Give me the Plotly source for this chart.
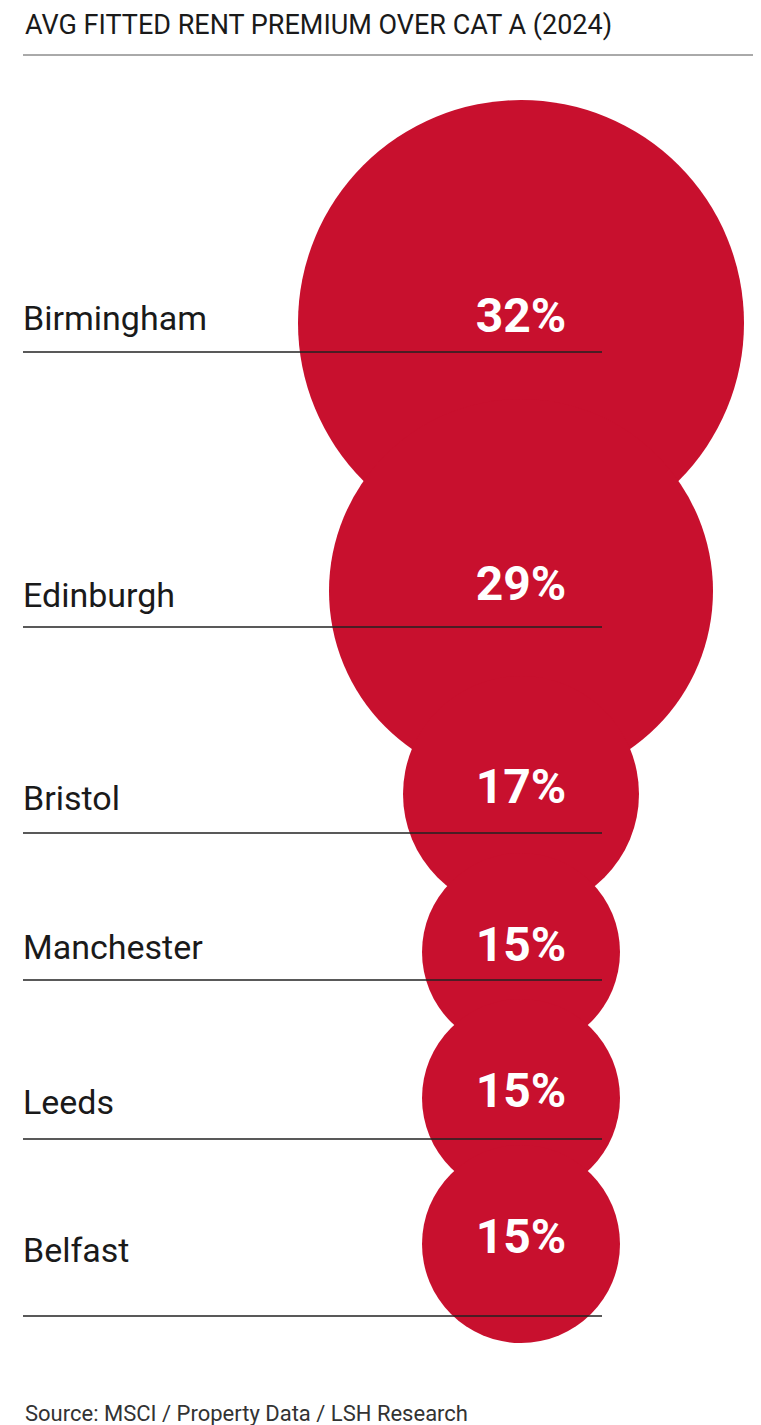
import plotly.graph_objects as go

cities = ["Birmingham", "Edinburgh", "Bristol", "Manchester", "Leeds", "Belfast"]
premium = [32, 29, 17, 15, 15, 15]
labels = ["32%", "29%", "17%", "15%", "15%", "15%"]

# layout positions (pixel coords)
centers_y = [315, 583, 786, 944, 1090, 1236]
line_y = [344, 619, 825, 972, 1131, 1308]
label_y = [313, 590, 793, 942, 1097, 1245]
radius_scale = [223/32, 192/29, 118/17, 99/15, 99/15, 99/15]
CX = 513
RED = "#C8102E"

fig = go.Figure()
shapes = []
for v, cy, k in zip(premium, centers_y, radius_scale):
    r = v * k
    shapes.append(dict(type="circle", xref="x", yref="y", x0=CX - r, x1=CX + r,
                       y0=cy - r, y1=cy + r, fillcolor=RED, line=dict(width=0), layer="below"))
for ly in line_y:
    shapes.append(dict(type="line", xref="x", yref="y", x0=15, x1=594, y0=ly, y1=ly,
                       line=dict(color="#222", width=1.5)))
shapes.append(dict(type="line", xref="x", yref="y", x0=15, x1=752, y0=47, y1=47,
                   line=dict(color="#555", width=1)))

fig.add_trace(go.Scatter(x=[15] * len(cities), y=label_y, text=cities, mode="text",
                         textposition="middle right",
                         textfont=dict(family="Roboto", size=34, color="#1a1a1a"),
                         hoverinfo="skip"))
fig.add_trace(go.Scatter(x=[CX] * len(cities), y=[c - 3 for c in centers_y], text=labels, mode="text",
                         textposition="middle center",
                         textfont=dict(family="Roboto", size=48, color="white", weight="bold"),
                         hoverinfo="skip"))

fig.add_annotation(x=15, y=17, xref="x", yref="y", text="AVG FITTED RENT PREMIUM OVER CAT A (2024)",
                   showarrow=False, xanchor="left", yanchor="middle",
                   font=dict(family="Roboto", size=27, color="#1a1a1a"))
fig.add_annotation(x=15, y=1405, xref="x", yref="y", text="Source: MSCI / Property Data / LSH Research",
                   showarrow=False, xanchor="left", yanchor="middle",
                   font=dict(family="Roboto", size=22, color="#333"))

fig.update_layout(width=761, height=1425, margin=dict(l=0, r=0, t=0, b=0),
                  plot_bgcolor="white", paper_bgcolor="white", showlegend=False,
                  shapes=shapes,
                  xaxis=dict(range=[0, 761], visible=False, fixedrange=True),
                  yaxis=dict(range=[1425, 0], visible=False, fixedrange=True))
fig.write_html("out.html", config={"displayModeBar": False})
